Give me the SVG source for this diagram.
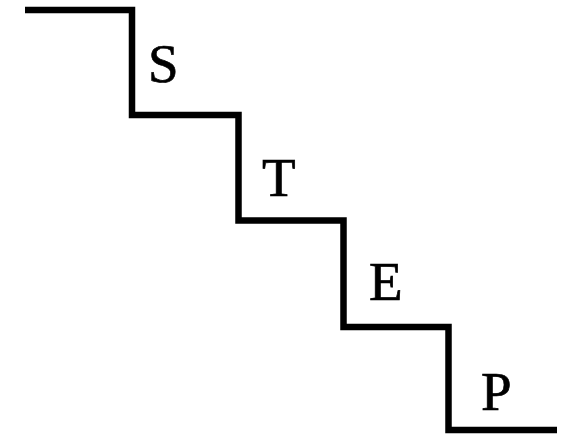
<svg xmlns="http://www.w3.org/2000/svg" width="569" height="435" viewBox="0 0 569 435">
<style>
.stair{fill:none;stroke:#000;stroke-width:6.5;stroke-linejoin:miter}
.lbl{font-family:"Liberation Serif","Times New Roman",serif;font-size:55px;fill:#000;stroke:#000;stroke-width:0.7}
</style>
<rect width="569" height="435" fill="#fff"/>
<g id="connectors">
<path class="stair" d="M25,10 H132 V115 H238.5 V220.5 H343.5 V327 H448.5 V430 H557"/>
</g>
<g id="node-s"><text class="lbl" x="148" y="82">S</text></g>
<g id="node-t"><text class="lbl" x="262" y="196">T</text></g>
<g id="node-e"><text class="lbl" x="369" y="300">E</text></g>
<g id="node-p"><text class="lbl" x="481" y="410">P</text></g>
</svg>
